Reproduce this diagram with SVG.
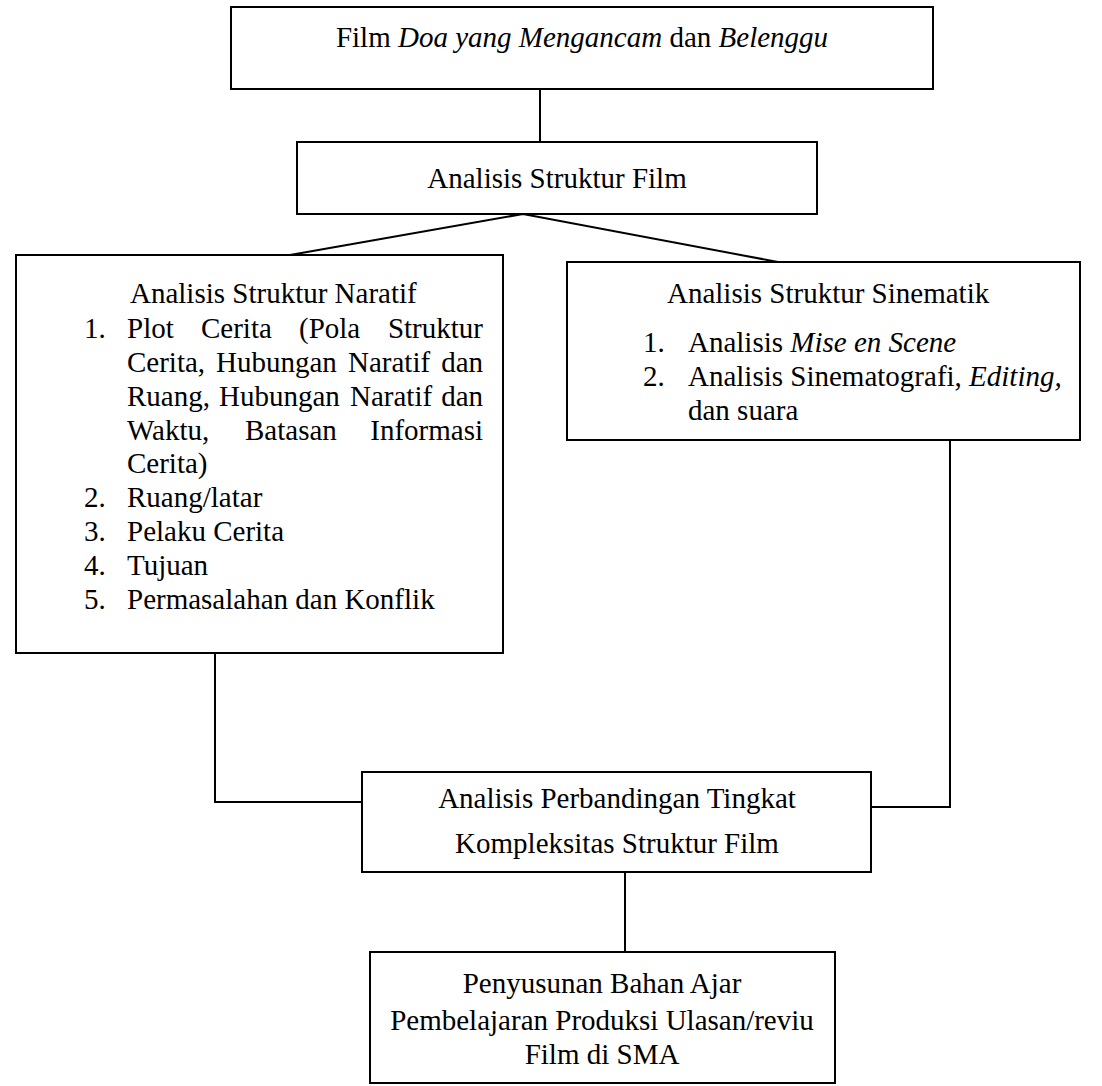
<svg xmlns="http://www.w3.org/2000/svg" width="1102" height="1086" viewBox="0 0 1102 1086">
<style>
.box{fill:#fff;stroke:#000;stroke-width:2}
.ln{fill:none;stroke:#000;stroke-width:2}
text{font-family:"Liberation Serif","Times New Roman",serif;font-size:29px;fill:#000}
.c{text-anchor:middle}
.e{text-anchor:end}
.i{font-style:italic}
</style>
<rect width="1102" height="1086" fill="#fff"/>
<g id="connectors">
<line class="ln" x1="540" y1="89" x2="540" y2="142"/>
<polyline class="ln" points="290,255 523,214 778,262"/>
<polyline class="ln" points="215,653 215,802 362,802"/>
<polyline class="ln" points="950,440 950,807 871,807"/>
<line class="ln" x1="625" y1="872" x2="625" y2="952"/>
</g>
<g id="film">
<rect class="box" x="231" y="7" width="702" height="82"/>
<text class="c" x="582" y="47">Film <tspan class="i">Doa yang Mengancam</tspan> dan <tspan class="i">Belenggu</tspan></text>
</g>
<g id="struktur-film">
<rect class="box" x="297" y="142" width="520" height="72"/>
<text class="c" x="557" y="188">Analisis Struktur Film</text>
</g>
<g id="naratif">
<rect class="box" x="16" y="255" width="487" height="398"/>
<text x="130" y="303">Analisis Struktur Naratif</text>
<text x="84" y="338">1.</text>
<text x="127" y="338">Plot</text><text x="201" y="338">Cerita</text><text x="299" y="338">(Pola</text><text class="e" x="483" y="338">Struktur</text>
<text x="127" y="372">Cerita,</text><text x="216" y="372">Hubungan</text><text x="348" y="372">Naratif</text><text class="e" x="483" y="372">dan</text>
<text x="127" y="406">Ruang,</text><text x="219" y="406">Hubungan</text><text x="350" y="406">Naratif</text><text class="e" x="483" y="406">dan</text>
<text x="127" y="440">Waktu,</text><text x="245" y="440">Batasan</text><text class="e" x="483" y="440">Informasi</text>
<text x="127" y="473">Cerita)</text>
<text x="84" y="507">2.</text><text x="127" y="507">Ruang/latar</text>
<text x="84" y="541">3.</text><text x="127" y="541">Pelaku Cerita</text>
<text x="84" y="575">4.</text><text x="127" y="575">Tujuan</text>
<text x="84" y="609">5.</text><text x="127" y="609">Permasalahan dan Konflik</text>
</g>
<g id="sinematik">
<rect class="box" x="567" y="262" width="513" height="178"/>
<text x="667" y="303">Analisis Struktur Sinematik</text>
<text x="643" y="352">1.</text><text x="688" y="352">Analisis <tspan class="i">Mise en Scene</tspan></text>
<text x="643" y="386">2.</text><text x="688" y="386">Analisis Sinematografi, <tspan class="i">Editing,</tspan></text>
<text x="688" y="420">dan suara</text>
</g>
<g id="perbandingan">
<rect class="box" x="362" y="772" width="509" height="100"/>
<text class="c" x="617" y="808">Analisis Perbandingan Tingkat</text>
<text class="c" x="617" y="853">Kompleksitas Struktur Film</text>
</g>
<g id="bahan-ajar">
<rect class="box" x="370" y="952" width="465" height="131"/>
<text class="c" x="602" y="993">Penyusunan Bahan Ajar</text>
<text class="c" x="602" y="1030">Pembelajaran Produksi Ulasan/reviu</text>
<text class="c" x="602" y="1064">Film di SMA</text>
</g>
</svg>
